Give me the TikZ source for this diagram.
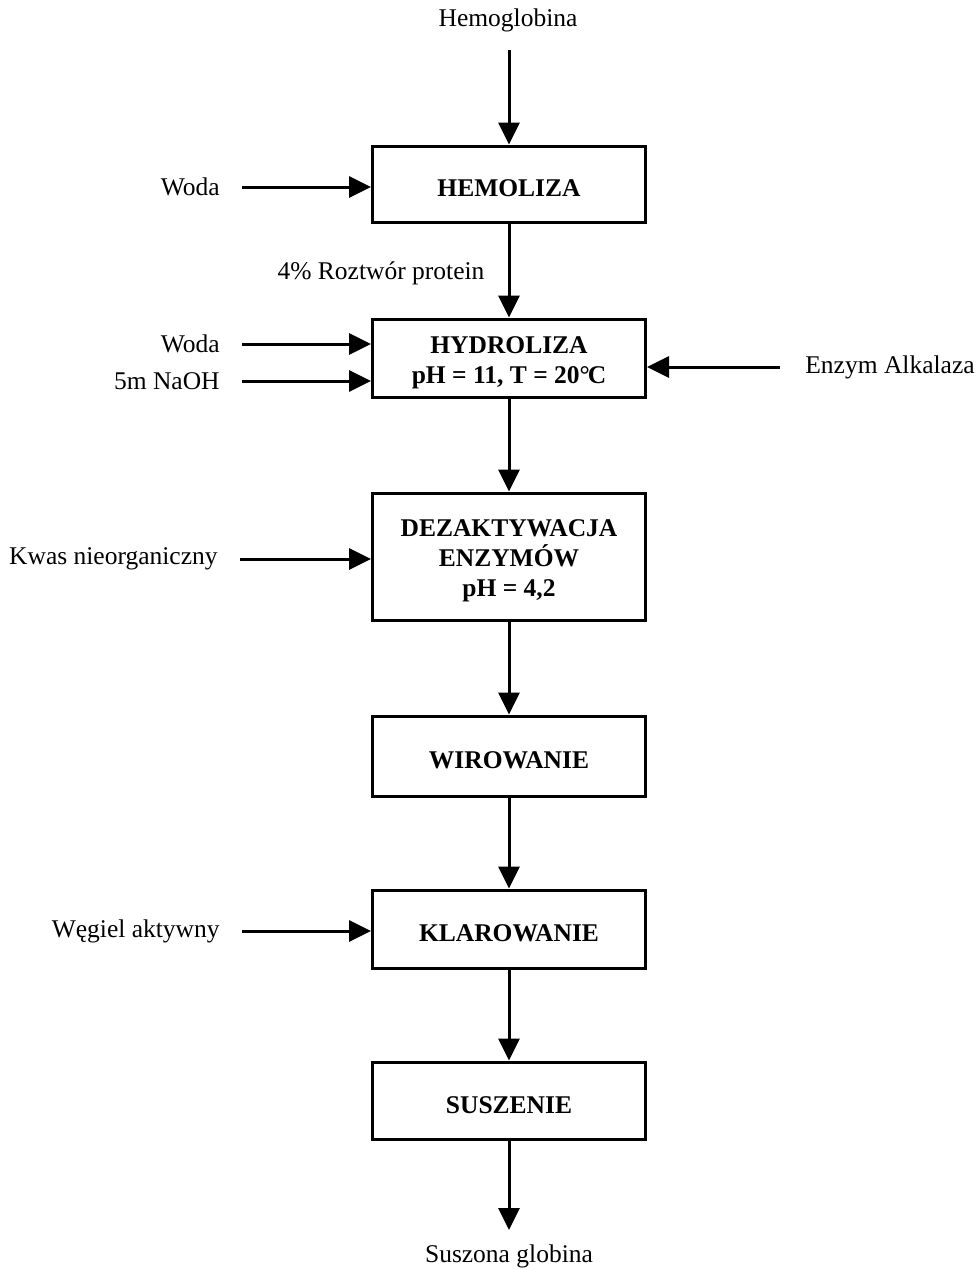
\documentclass[tikz,border=0pt]{standalone}
\usepackage{fontspec}
\setmainfont{Liberation Serif}
\usetikzlibrary{arrows.meta}
% extra head room above the first line of a stage label
\newcommand\firstline{\rule{0pt}{13pt}}
\begin{document}
\begin{tikzpicture}[x=0.5pt,y=-0.5pt,
  every node/.style={font=\fontsize{12.75}{15}\selectfont},
  stage/.style={draw, line width=1.5pt, minimum width=136.5pt, align=center,
    font=\fontsize{12.75}{15}\selectfont\bfseries, inner sep=0pt},
  flow/.style={line width=1.5pt, -{Triangle[length=11pt,width=10.5pt]}},
  feed/.style={anchor=east, inner xsep=11pt},
  feedright/.style={anchor=west, inner xsep=12.5pt}]
\useasboundingbox (0,0) rectangle (977,1269);
\fill[white] (0,0) rectangle (977,1269);

% process stages
\node[stage, minimum height=38pt]   (hemo)  at (509,184)    {\firstline HEMOLIZA};
\node[stage, minimum height=39pt]   (hydro) at (509,358)    {\firstline HYDROLIZA\\pH = 11, T = 20°\kern-0.08em C};
\node[stage, minimum height=63.5pt] (dez)   at (509,556.5)  {\firstline DEZAKTYWACJA\\ENZYMÓW\\pH = 4,2};
\node[stage, minimum height=40pt]   (wir)   at (509,756)    {\firstline WIROWANIE};
\node[stage, minimum height=39pt]   (klar)  at (509,929)    {\firstline KLAROWANIE};
\node[stage, minimum height=38.5pt] (sus)   at (509,1100.5) {\firstline SUSZENIE};

% raw material and product
\node (hemoglobina) at (508,20) {Hemoglobina};
\coordinate (start) at (509,50);
\node (product) at (509,1256) {Suszona globina};
\coordinate (finish) at (509,1230);

% main line
\draw[flow] (start) -- (hemo);
\draw[flow] (hemo) -- (hydro);
\node (conc) at (381,273) {4\% Roztwór protein};
\draw[flow] (hydro) -- (dez);
\draw[flow] (dez) -- (wir);
\draw[flow] (wir) -- (klar);
\draw[flow] (klar) -- (sus);
\draw[flow] (sus) -- (finish);

% side feeds
\node[feed] (woda1) at (242,187) {Woda};
\draw[flow] (woda1.east) -- (woda1.east -| hemo.west);
\node[feed] (woda2) at (242,344) {Woda};
\draw[flow] (woda2.east) -- (woda2.east -| hydro.west);
\node[feed] (naoh) at (242,381) {5m NaOH};
\draw[flow] (naoh.east) -- (naoh.east -| hydro.west);
\node[feedright] (enzym) at (780,367) {Enzym Alkalaza};
\draw[flow] (enzym.west) -- (enzym.west -| hydro.east);
\node[feed] (kwas) at (240,559) {Kwas nieorganiczny};
\draw[flow] (kwas.east) -- (kwas.east -| dez.west);
\node[feed] (wegiel) at (242,931) {Węgiel aktywny};
\draw[flow] (wegiel.east) -- (wegiel.east -| klar.west);
\end{tikzpicture}
\end{document}
